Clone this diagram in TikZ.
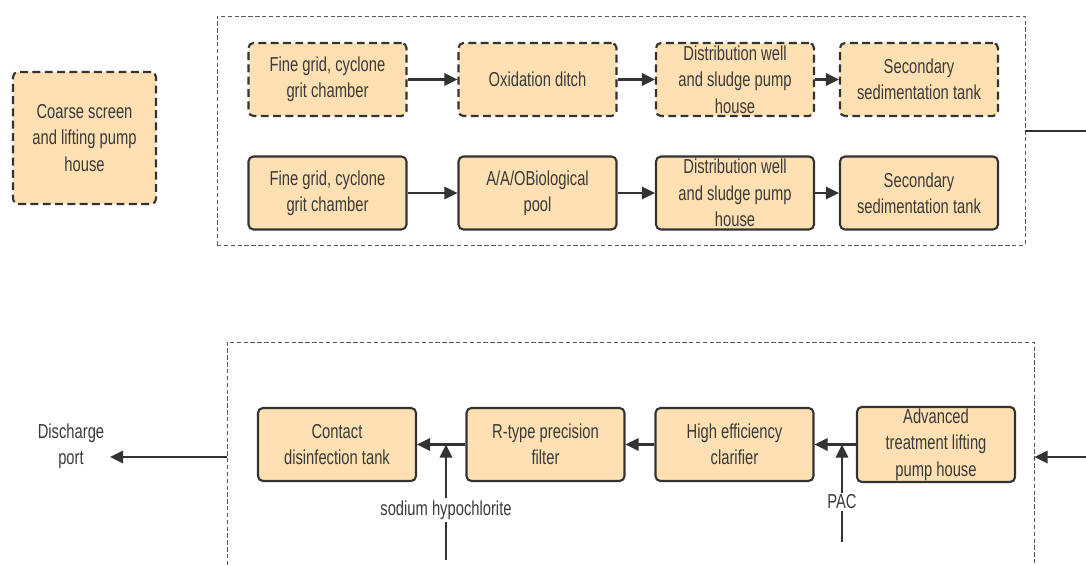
\documentclass[tikz,border=0pt]{standalone}
\usepackage{fontspec}
\setmainfont{Liberation Sans}[FakeStretch=0.73]
\usepackage{xcolor}
\usepackage{tikz}
\usetikzlibrary{arrows.meta,positioning,calc}
\definecolor{cUnit}{RGB}{255,224,178}
\definecolor{cLine}{RGB}{51,51,51}
\definecolor{cText}{RGB}{58,58,58}
\definecolor{cFrame}{RGB}{90,90,90}
\tikzset{
  >={Triangle[length=7.5pt,width=7pt]},
  unit/.style={draw=cLine,line width=1.2pt,rounded corners=2.8pt,fill=cUnit,
               minimum width=158*0.2mm,minimum height=73*0.2mm,inner sep=1pt,
               align=center,text=cText,font=\fontsize{11.5}{15}\selectfont},
  unitd/.style={unit,dash pattern=on 4.5pt off 2.5pt},
  frame/.style={draw=cFrame,line width=0.55pt,dash pattern=on 2.5pt off 1.4pt},
  flow/.style={->,draw=cLine,line width=1.4pt},
  feed/.style={draw=cLine,line width=1.4pt},
  lbl/.style={text=cText,align=center,inner sep=1pt,
              font=\fontsize{11.5}{15}\selectfont},
}

\begin{document}
\begin{tikzpicture}[x=0.2mm,y=-0.2mm]
  \useasboundingbox (0,0) rectangle (1086,565);
  \clip (0,0) rectangle (1086,565);
  % frames
  \node[frame,minimum width=808*0.2mm,minimum height=229*0.2mm] (topfr) at (621,130.5) {};
  \node[frame,minimum width=807*0.2mm,minimum height=278*0.2mm] (botfr) at (630.5,481) {};
  % pretreatment
  \node[unitd,minimum width=143*0.2mm,minimum height=132*0.2mm] (coarse) at (84.5,138)
    {Coarse screen\\and lifting pump\\house};
  % oxidation ditch line
  \node[unitd] (grid1) at (327.5,79.5) {Fine grid, cyclone\\grit chamber};
  \node[unitd] (ditch) at (537.5,79.5) {Oxidation ditch};
  \node[unitd] (dist1) at (735,79.5)   {Distribution well\\and sludge pump\\house};
  \node[unitd] (sed1)  at (919,79.5)   {Secondary\\sedimentation tank};
  % A/A/O line
  \node[unit] (grid2) at (327.5,193) {Fine grid, cyclone\\grit chamber};
  \node[unit] (aao)   at (537.5,193) {A/A/OBiological\\pool};
  \node[unit] (dist2) at (735,193)   {Distribution well\\and sludge pump\\house};
  \node[unit] (sed2)  at (919,193)   {Secondary\\sedimentation tank};
  % advanced treatment
  \node[unit] (lift)    at (936,444.5)   {Advanced\\treatment lifting\\pump house};
  \node[unit] (clarif)  at (734.5,444.5) {High efficiency\\clarifier};
  \node[unit] (filter)  at (545.5,444.5) {R-type precision\\filter};
  \node[unit] (contact) at (337,444.5)   {Contact\\disinfection tank};
  % labels
  \node[lbl] (disch) at (71,446)  {Discharge\\port};
  \node[lbl] (hypo)  at (446,510) {sodium hypochlorite};
  \node[lbl] (pac)   at (842,502) {PAC};
  \coordinate (outR)   at (1086,131);
  \coordinate (inR)    at (1086,457);
  \coordinate (dischE) at (110,457);
  \coordinate (hypoin) at (446,560);
  \coordinate (pacin)  at (842,542);

  \draw[flow] (grid1)--(ditch);
  \draw[flow] (ditch)--(dist1);
  \draw[flow] (dist1)--(sed1);
  \draw[flow] (grid2)--(aao);
  \draw[flow] (aao)--(dist2);
  \draw[flow] (dist2)--(sed2);
  \draw[feed] (topfr.east |- outR)--(outR);

  \draw[flow] (inR)--(inR -| botfr.east);
  \draw[flow] (lift)--(clarif);
  \draw[flow] (clarif)--(filter);
  \draw[flow] (filter)--(contact);
  \draw[flow] (dischE -| botfr.west)--(dischE);

  \draw[feed] (hypoin)--(hypo.south);
  \draw[flow] (hypo.north)--(hypo.north |- filter.west);
  \draw[feed] (pacin)--(pac.south);
  \draw[flow] (pac.north)--(pac.north |- clarif.east);
\end{tikzpicture}
\end{document}
